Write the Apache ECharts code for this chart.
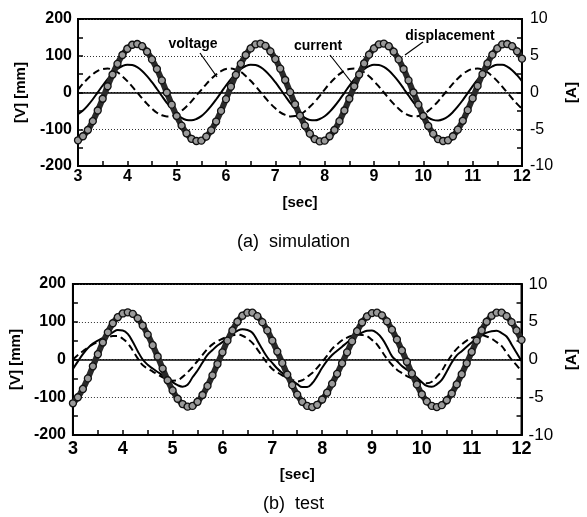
<!DOCTYPE html>
<html>
<head>
<meta charset="utf-8">
<script src="https://cdn.jsdelivr.net/npm/echarts@6/dist/echarts.min.js"></script>
<style>html,body{margin:0;padding:0;background:#fff}#c{width:587px;height:517px}</style>
</head>
<body>
<div id="c"></div>
<script>
// sample times [sec]
const time = [3.0,3.1,3.2,3.3,3.4,3.5,3.6,3.7,3.8,3.9,4.0,4.1,4.2,4.3,4.4,4.5,4.6,4.7,4.8,4.9,
  5.0,5.1,5.2,5.3,5.4,5.5,5.6,5.7,5.8,5.9,6.0,6.1,6.2,6.3,6.4,6.5,6.6,6.7,6.8,6.9,
  7.0,7.1,7.2,7.3,7.4,7.5,7.6,7.7,7.8,7.9,8.0,8.1,8.2,8.3,8.4,8.5,8.6,8.7,8.8,8.9,
  9.0,9.1,9.2,9.3,9.4,9.5,9.6,9.7,9.8,9.9,10.0,10.1,10.2,10.3,10.4,10.5,10.6,10.7,10.8,10.9,
  11.0,11.1,11.2,11.3,11.4,11.5,11.6,11.7,11.8,11.9,12.0];

// (a) simulation
const simVoltage = [8,24,38,50,59,64,65,62,55,44,31,16,0,-16,-31,-44,-55,-62,-65,-64,-59,-50,-38,-24,-8,
  7,23,37,49,58,64,65,62,56,45,32,17,1,-15,-30,-43,-54,-61,-65,-64,-60,-51,-39,-25,-9,
  8,24,38,50,59,64,65,62,55,44,31,16,0,-16,-31,-44,-55,-62,-65,-64,-59,-50,-38,-24,-8,
  8,24,38,50,59,64,65,62,55,44,31,16,0,-16,-31,-44];
const simCurrent = [-2.95,-2.45,-1.75,-0.92,0.02,0.95,1.83,2.60,3.21,3.61,3.79,3.73,3.44,2.93,2.23,1.40,0.48,-0.48,-1.40,-2.23,-2.93,-3.44,-3.73,-3.79,-3.61,
  -3.21,-2.60,-1.83,-0.95,0,0.95,1.83,2.60,3.21,3.61,3.79,3.73,3.44,2.93,2.23,1.40,0.48,-0.48,-1.40,-2.23,-2.93,-3.44,-3.73,-3.79,-3.61,
  -3.23,-2.63,-1.87,-1.00,-0.05,0.90,1.78,2.56,3.18,3.59,3.79,3.75,3.48,2.98,2.29,1.47,0.55,-0.41,-1.34,-2.17,-2.88,-3.41,-3.72,-3.80,-3.64,
  -3.26,-2.66,-1.90,-1.03,-0.09,0.86,1.74,2.52,3.14,3.56,3.77,3.77,3.52,3.04,2.36,1.55];
const simDisplacement = [-130,-119,-102,-78,-49,-17,17,49,78,102,119,130,132,126,111,90,64,33,0,-33,-64,-90,-111,-126,-132,
  -131,-120,-103,-79,-50,-18,16,48,78,102,120,131,133,127,112,91,65,34,1,-32,-63,-90,-112,-127,-133,
  -131,-119,-102,-78,-49,-17,17,49,79,103,120,131,133,126,111,90,64,33,0,-33,-64,-91,-112,-127,-132,
  -130,-119,-101,-77,-48,-16,18,50,79,103,120,131,132,126,112,92];

// (b) test
const testVoltage = [0,12,22,32,40,46,52,58,62,62,55,43,24,3,-15,-24,-32,-40,-47,-52,-56,-55,-46,-34,-20,
  -4,12,28,40,48,55,60,64,66,63,55,44,27,8,-10,-25,-34,-42,-49,-54,-58,-55,-46,-36,-22,
  -6,10,28,40,51,58,63,66,65,62,52,40,21,2,-14,-27,-36,-44,-50,-56,-60,-63,-59,-46,-30,
  -8,12,28,40,50,57,62,64,61,55,46,36,18,0,-15,-31];
const testCurrent = [-1.25,-0.25,0.70,1.50,2.10,2.50,2.85,3.20,3.60,3.90,3.85,3.40,2.35,1.10,0.00,-0.70,-1.20,-1.65,-2.10,-2.60,-3.00,-3.40,-3.60,-3.35,-2.35,
  -1.45,-0.40,0.60,1.25,1.85,2.30,2.90,3.40,3.80,4.00,3.90,3.55,2.50,1.35,0.30,-0.45,-1.20,-1.80,-2.35,-2.80,-3.25,-3.65,-3.65,-3.15,-2.20,
  -1.10,-0.15,0.60,1.15,1.70,2.25,2.75,3.20,3.55,3.80,3.85,3.50,2.80,1.70,0.45,-0.20,-0.85,-1.35,-1.85,-2.40,-3.00,-3.50,-3.60,-3.30,-2.70,
  -1.60,-0.40,0.55,1.10,1.70,2.25,2.75,3.20,3.55,3.75,3.80,3.50,3.05,2.00,0.90,-0.20];
const testDisplacement = [-116,-100,-78,-50,-18,14,45,72,96,112,122,125,121,109,90,66,38,8,-24,-55,-82,-104,-118,-125,-123,
  -112,-94,-70,-42,-12,19,50,77,100,116,124,124,115,99,77,50,21,-9,-40,-68,-93,-112,-123,-126,-120,
  -106,-88,-64,-38,-10,19,48,75,98,114,123,124,117,101,79,53,24,-6,-37,-66,-92,-111,-123,-126,-121,
  -108,-90,-66,-39,-10,20,50,77,100,116,124,124,115,99,77,52];

const xTicks = {min: 3, max: 12, step: 1};
const leftTicks = {min: -200, max: 200, step: 100};
const rightTicks = {min: -10, max: 10, step: 5};

const pair = (arr) => time.map((t, i) => [t, arr[i]]);
const FONT = '"Liberation Sans", Arial, Helvetica, sans-serif';

function xAxisDef(gi, fs, margin, gap) {
  return {
    type: 'value', gridIndex: gi, min: xTicks.min, max: xTicks.max, interval: xTicks.step,
    name: '[sec]', nameLocation: 'middle', nameGap: gap,
    nameTextStyle: {fontWeight: 'bold', fontSize: 15, color: '#000', fontFamily: FONT},
    axisLine: {show: true, onZero: false, lineStyle: {color: '#000', width: 2}},
    axisTick: {show: true, inside: true, length: 5, lineStyle: {color: '#000', width: 1.5}},
    minorTick: {show: true, splitNumber: 2, length: 5, lineStyle: {color: '#000', width: 1.5}},
    axisLabel: {color: '#000', fontWeight: 'bold', fontSize: fs, margin: margin, fontFamily: FONT},
    splitLine: {show: false}
  };
}
function leftAxisDef(gi, fs, margin, gap) {
  return {
    type: 'value', gridIndex: gi, position: 'left', min: leftTicks.min, max: leftTicks.max, interval: leftTicks.step,
    name: '[V] [mm]', nameLocation: 'middle', nameGap: gap, nameRotate: 90,
    nameTextStyle: {fontWeight: 'bold', fontSize: 15, color: '#000', fontFamily: FONT},
    axisLine: {show: true, lineStyle: {color: '#000', width: 2}},
    axisTick: {show: true, inside: true, length: 5, lineStyle: {color: '#000', width: 1.5}},
    minorTick: {show: true, splitNumber: 2, length: 5, lineStyle: {color: '#000', width: 1.5}},
    axisLabel: {color: '#000', fontWeight: 'bold', fontSize: fs, margin: margin, fontFamily: FONT},
    splitLine: {show: true, lineStyle: {color: '#333', type: [1, 2], width: 1}}
  };
}
function rightAxisDef(gi, fs, margin, gap) {
  return {
    type: 'value', gridIndex: gi, position: 'right', min: rightTicks.min, max: rightTicks.max, interval: rightTicks.step,
    name: '[A]', nameLocation: 'middle', nameGap: gap, nameRotate: 90,
    nameTextStyle: {fontWeight: 'bold', fontSize: 15, color: '#000', fontFamily: FONT},
    axisLine: {show: true, lineStyle: {color: '#000', width: 2}},
    axisTick: {show: true, inside: true, length: 5, lineStyle: {color: '#000', width: 1.5}},
    minorTick: {show: true, splitNumber: 2, length: 5, lineStyle: {color: '#000', width: 1.5}},
    axisLabel: {color: '#000', fontSize: fs, margin: margin, fontFamily: FONT},
    splitLine: {show: false}
  };
}

function seriesFor(gi, v, c, d) {
  const yl = gi * 2, yr = gi * 2 + 1;
  return [
    {name: 'voltage', type: 'line', xAxisIndex: gi, yAxisIndex: yl, data: pair(v), smooth: 0.4,
     showSymbol: false, lineStyle: {color: '#000', width: 2, type: [7, 4]}, z: 3,
     markLine: {silent: true, symbol: ['none', 'none'], label: {show: false},
       lineStyle: {color: '#000', type: 'solid', width: 1.5}, data: [{yAxis: 0}]}},
    {name: 'current', type: 'line', xAxisIndex: gi, yAxisIndex: yr, data: pair(c), smooth: 0.4,
     showSymbol: false, lineStyle: {color: '#000', width: 2}, z: 4},
    {name: 'displacement', type: 'line', xAxisIndex: gi, yAxisIndex: yl, data: pair(d), smooth: 0.4,
     showSymbol: true, symbol: 'circle', symbolSize: 7,
     itemStyle: {color: '#9a9a9a', borderColor: '#111', borderWidth: 1.3},
     lineStyle: {color: '#2a2a2a', width: 6}, z: 5}
  ];
}

const chart = echarts.init(document.getElementById('c'), null, {renderer: 'canvas'});
const lbl = (text, x, y) => ({type: 'text', x: x, y: y, z: 100,
  style: {text: text, font: 'bold 14px ' + FONT, fill: '#000', align: 'center', verticalAlign: 'middle'}});
const ln = (x1, y1, x2, y2) => ({type: 'line', z: 100, shape: {x1, y1, x2, y2}, style: {stroke: '#000', lineWidth: 1.2}});

chart.setOption({
  animation: false,
  backgroundColor: '#fff',
  textStyle: {fontFamily: FONT},
  title: [
    {text: '(a)  simulation', left: 'center', top: 228, textStyle: {fontSize: 18, fontWeight: 'normal', color: '#000', fontFamily: FONT}},
    {text: '(b)  test', left: 'center', top: 490, textStyle: {fontSize: 18, fontWeight: 'normal', color: '#000', fontFamily: FONT}}
  ],
  grid: [
    {left: 78, right: 60, top: 19, height: 147, show: true, borderColor: '#000', borderWidth: 2, backgroundColor: 'transparent'},
    {left: 69, right: 59, top: 284, height: 151, show: true, borderColor: '#000', borderWidth: 2, backgroundColor: 'transparent'}
  ],
  xAxis: [xAxisDef(0, 16, 3, 29), xAxisDef(1, 18, 5, 32)],
  yAxis: [leftAxisDef(0, 16, 6, 50), rightAxisDef(0, 16, 8, 32), leftAxisDef(1, 16, 7, 41), rightAxisDef(1, 17, 7, 33)],
  series: [].concat(seriesFor(0, simVoltage, simCurrent, simDisplacement), seriesFor(1, testVoltage, testCurrent, testDisplacement)),
  graphic: [
    lbl('voltage', 193, 44), lbl('current', 318, 46), lbl('displacement', 450, 36),
    ln(200, 53, 217, 77), ln(330, 55, 352, 83), ln(423, 42, 405, 55)
  ]
});
</script>
</body>
</html>
